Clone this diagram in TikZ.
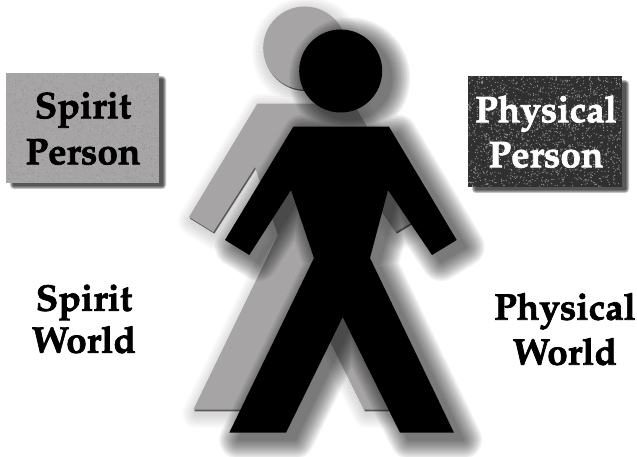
\documentclass[tikz,border=0pt]{standalone}
\usepackage{tikz}
\usepackage{xcolor}
\usepackage[T1]{fontenc}
\usetikzlibrary{arrows.meta,calc,positioning}
\definecolor{spiritgray}{HTML}{A6A4A5}
\definecolor{spiritedge}{HTML}{5A5A5A}
\definecolor{physicaldark}{HTML}{303030}
\newcommand{\walkerpath}{
  (293.3,126.7) -- (389,126.7) -- (456.7,240) -- (432,255) -- (388,190) -- (370,258)
  -- (454,432.7) -- (400,432.7) -- (342.7,317) -- (286,432.7) -- (229.3,432.7)
  -- (314,258) -- (291,190) -- (249.3,255) -- (225,240) -- cycle
  (340.7,71) circle (41.5)
}
\newcommand{\heavyink}{\special{pdf:literal 2 Tr 0.7 w}}
\tikzset{
  every picture/.append style={line cap=round,line join=round},
  world label/.style={font=\fontfamily{ppl}\bfseries\fontsize{37}{46}\selectfont,align=center,inner sep=0pt},
  soft layer/.style={line width=#1,draw=black,fill=black,line join=round}
}
\begin{document}
\begin{tikzpicture}[x=1pt,y=-1pt]
\useasboundingbox (0,0) rectangle (637,457);
% spirit person box
\foreach \w in {8,6,4,2}{
  \begin{scope}[transparency group,opacity=0.24]
    \path[soft layer=\w pt] (14,80) rectangle (162,185);
  \end{scope}
}
\fill[spiritgray] (6,73) rectangle (159,183);
\pgfmathsetseed{41}
\fill[white,opacity=0.10] \foreach \i in {1,...,1100}{ ({6+152*rnd},{73+109*rnd}) rectangle ++(1,1) };
\fill[black,opacity=0.08] \foreach \i in {1,...,1100}{ ({6+152*rnd},{73+109*rnd}) rectangle ++(1,1) };
% physical person box
\foreach \w in {8,6,4,2}{
  \begin{scope}[transparency group,opacity=0.24]
    \path[soft layer=\w pt] (476,84) rectangle (625,189);
  \end{scope}
}
\fill[physicaldark] (468,76) rectangle (622,187);
\fill[white,opacity=0.42] \foreach \i in {1,...,1800}{ ({468+153*rnd},{76+110*rnd}) rectangle ++(1,1) };
% spirit figure
\begin{scope}[shift={(-36,-23)}]
  \foreach \w in {28,24,20,16,12,8,4}{
    \begin{scope}[transparency group,opacity=0.025]
      \path[soft layer=\w pt,shift={(3,4)}] \walkerpath;
    \end{scope}
  }
  \fill[spiritedge,shift={(1,1.6)}] \walkerpath;
  \fill[spiritgray] \walkerpath;
\end{scope}
% physical figure
\foreach \w in {38,35,32,29,26,23,20,17,14,11,8,5,2}{
  \begin{scope}[transparency group,opacity=0.055]
    \path[soft layer=\w pt,shift={(9,7)}] \walkerpath;
  \end{scope}
}
\fill[black] \walkerpath;
% labels
\node[world label] (spiritperson) at (83,128.5) {\heavyink Spirit\\\heavyink Person};
\node[world label,text=white] (physicalperson) at (546,131.5) {\heavyink Physical\\[-1pt]\heavyink Person};
\node[world label] (spiritworld) at (84,319) {\heavyink Spirit\\[-4pt]\heavyink World};
\node[world label] (physicalworld) at (565,329) {\heavyink Physical\\[-1pt]\heavyink World};
\end{tikzpicture}
\end{document}
